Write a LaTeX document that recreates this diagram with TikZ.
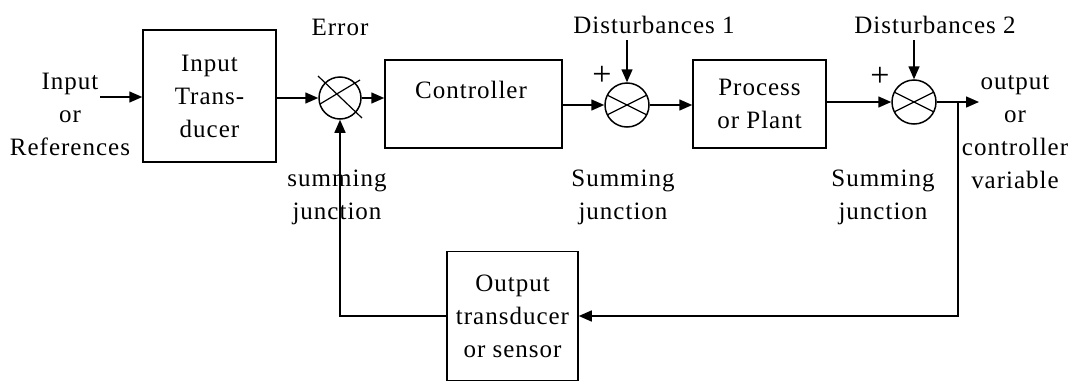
\documentclass[tikz,border=0pt]{standalone}
\usepackage{fontspec}
\setmainfont{Liberation Serif}[LetterSpace=4]
\usetikzlibrary{arrows.meta}
\begin{document}
\begin{tikzpicture}[x=1pt,y=-1pt,line width=1.5pt,
  blk/.style={draw,rectangle,inner sep=0pt,align=center,font=\fontsize{25}{33}\selectfont},
  sj/.style={draw,circle,inner sep=0pt,minimum size=44pt},
  lbl/.style={inner sep=0pt,align=center,font=\fontsize{25}{33}\selectfont},
  plus/.style={inner sep=0pt,font=\fontsize{34}{34}\selectfont},
  arr/.style={-{Triangle[length=13pt,width=11pt]}},
  crs/.style={line width=1.2pt}]
\useasboundingbox (0,0) rectangle (1070,383);
% blocks
\node[blk,minimum width=133pt,minimum height=132pt] (intr) at (209.5,96) {Input\\Trans-\\ducer};
\node[blk,minimum width=177pt,minimum height=88pt] (ctrl) at (473.5,104) {};
\node[lbl] (ctrltxt) at (471,90) {Controller};
\node[blk,minimum width=133pt,minimum height=88pt] (proc) at (759.5,104) {Process\\or Plant};
\node[blk,minimum width=131pt,minimum height=129pt] (otr) at (512.5,316) {Output\\transducer\\or sensor};
% summing junctions
\node[sj,minimum size=42pt] (j1) at (340,98) {};
\node[sj] (j2) at (627,105) {};
\node[sj] (j3) at (914,102) {};
\draw[crs] ([shift={(-22,-22)}]j1.center) -- ([shift={(22,20)}]j1.center);
\draw[crs] ([shift={(-20,6)}]j1.center) -- ([shift={(20,-18)}]j1.center);
\draw[crs] ([shift={(-20,-10)}]j2.center) -- ([shift={(20,10)}]j2.center);
\draw[crs] ([shift={(-20,10)}]j2.center) -- ([shift={(20,-10)}]j2.center);
\draw[crs] ([shift={(-20,-10)}]j3.center) -- ([shift={(20,10)}]j3.center);
\draw[crs] ([shift={(-20,10)}]j3.center) -- ([shift={(20,-10)}]j3.center);
% labels
\node[lbl] (inlbl) at (70,114) {Input\\or\\References};
\node[lbl] (err) at (340,27) {Error};
\node[lbl] (d1) at (654,25) {Disturbances 1};
\node[lbl] (d2) at (935,25) {Disturbances 2};
\node[plus] (p1) at (602,76) {+};
\node[plus] (p2) at (880,77) {+};
\node[lbl] (s1) at (337,197) {summing\\junction};
\node[lbl] (s2) at (623,197) {Summing\\junction};
\node[lbl] (s3) at (883,197) {Summing\\junction};
\node[lbl] (outlbl) at (1015,132) {output\\or\\controller\\variable};
% coordinates
\coordinate (inS) at (100,97);
\coordinate (d1s) at (627,40);
\coordinate (d2s) at (914,40);
\coordinate (out) at (979,102);
\coordinate (fb) at (958,102);
% connectors
\draw[arr] (inS) -- (inS -| intr.west);
\draw[arr] (j1.west -| intr.east) -- (j1.west);
\draw[arr] (j1.east) -- (j1.east -| ctrl.west);
\draw[arr] (j2.west -| ctrl.east) -- (j2.west);
\draw[arr] (j2.east) -- (j2.east -| proc.west);
\draw[arr] (j3.west -| proc.east) -- (j3.west);
\draw[arr] (j3.east) -- (out);
\draw[arr] (d1s) -- (j2.north);
\draw[arr] (d2s) -- (j3.north);
\draw[arr] (fb) -- (fb |- otr.east) -- (otr.east);
\draw[arr] (otr.west) -- (otr.west -| j1.south) -- (j1.south);
\end{tikzpicture}
\end{document}
